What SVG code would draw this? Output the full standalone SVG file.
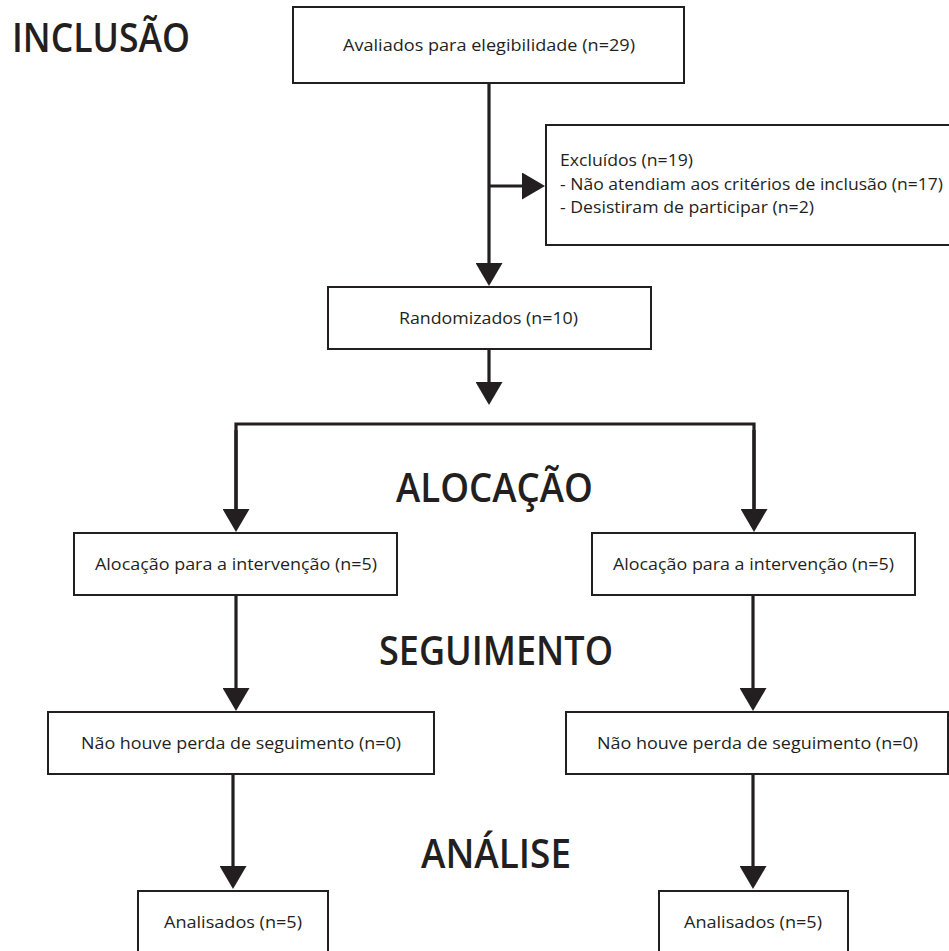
<svg xmlns="http://www.w3.org/2000/svg" width="949" height="951" viewBox="0 0 949 951">
<style>
.box{fill:#fff;stroke:#231f20;stroke-width:2}
.t{font-family:"Open Sans","Noto Sans",sans-serif;font-size:17px;fill:#231f20}
.h{font-family:"Open Sans","Noto Sans",sans-serif;font-size:39px;font-weight:600;fill:#231f20}
.c{fill:none;stroke:#231f20;stroke-width:3.2;stroke-linejoin:miter}
.a{marker-end:url(#arr)}
</style>
<defs>
<marker id="arr" markerUnits="userSpaceOnUse" markerWidth="23" markerHeight="27" viewBox="0 0 23 27" refX="11" refY="13.5" orient="auto">
<path d="M0,0 L23,13.5 L0,27 Z" fill="#231f20"/>
</marker>
</defs>
<rect width="949" height="951" fill="#fff"/>
<g id="headings">
<text class="h" x="12" y="52" textLength="178" lengthAdjust="spacingAndGlyphs">INCLUSÃO</text>
<text class="h" x="396" y="502" textLength="197" lengthAdjust="spacingAndGlyphs">ALOCAÇÃO</text>
<text class="h" x="379" y="665" textLength="234" lengthAdjust="spacingAndGlyphs">SEGUIMENTO</text>
<text class="h" x="421" y="868" textLength="150" lengthAdjust="spacingAndGlyphs">ANÁLISE</text>
</g>
<g id="connectors">
<path class="c a" d="M489,83 V274"/>
<path class="c a" d="M489,186 H533"/>
<path class="c a" d="M489,349 V393"/>
<path class="c" d="M236,520 V424 H754 V520"/>
<path class="c a" d="M236,430 V520"/>
<path class="c a" d="M754,430 V520"/>
<path class="c a" d="M236,595 V699"/>
<path class="c a" d="M753,595 V699"/>
<path class="c a" d="M233,774 V877"/>
<path class="c a" d="M753,774 V877"/>
</g>
<g id="n-avaliados">
<rect class="box" x="293" y="7" width="391" height="76"/>
<text class="t" x="343" y="51" textLength="292" lengthAdjust="spacingAndGlyphs">Avaliados para elegibilidade (n=29)</text>
</g>
<g id="n-excluidos">
<rect class="box" x="546" y="125" width="420" height="120"/>
<text class="t" x="560" y="166" textLength="133" lengthAdjust="spacingAndGlyphs">Excluídos (n=19)</text>
<text class="t" x="560" y="190" textLength="383" lengthAdjust="spacingAndGlyphs">- Não atendiam aos critérios de inclusão (n=17)</text>
<text class="t" x="560" y="213" textLength="254" lengthAdjust="spacingAndGlyphs">- Desistiram de participar (n=2)</text>
</g>
<g id="n-randomizados">
<rect class="box" x="328" y="287" width="323" height="62"/>
<text class="t" x="399" y="324" textLength="179" lengthAdjust="spacingAndGlyphs">Randomizados (n=10)</text>
</g>
<g id="n-alocacao-1">
<rect class="box" x="74" y="533" width="323" height="62"/>
<text class="t" x="95" y="570" textLength="282" lengthAdjust="spacingAndGlyphs">Alocação para a intervenção (n=5)</text>
</g>
<g id="n-alocacao-2">
<rect class="box" x="592" y="533" width="323" height="62"/>
<text class="t" x="613" y="570" textLength="281" lengthAdjust="spacingAndGlyphs">Alocação para a intervenção (n=5)</text>
</g>
<g id="n-seguimento-1">
<rect class="box" x="48" y="712" width="386" height="62"/>
<text class="t" x="81" y="749" textLength="320" lengthAdjust="spacingAndGlyphs">Não houve perda de seguimento (n=0)</text>
</g>
<g id="n-seguimento-2">
<rect class="box" x="566" y="712" width="382" height="62"/>
<text class="t" x="597" y="749" textLength="321" lengthAdjust="spacingAndGlyphs">Não houve perda de seguimento (n=0)</text>
</g>
<g id="n-analisados-1">
<rect class="box" x="138" y="891" width="190" height="80"/>
<text class="t" x="164" y="928" textLength="138" lengthAdjust="spacingAndGlyphs">Analisados (n=5)</text>
</g>
<g id="n-analisados-2">
<rect class="box" x="659" y="891" width="189" height="80"/>
<text class="t" x="684" y="928" textLength="138" lengthAdjust="spacingAndGlyphs">Analisados (n=5)</text>
</g>
</svg>
